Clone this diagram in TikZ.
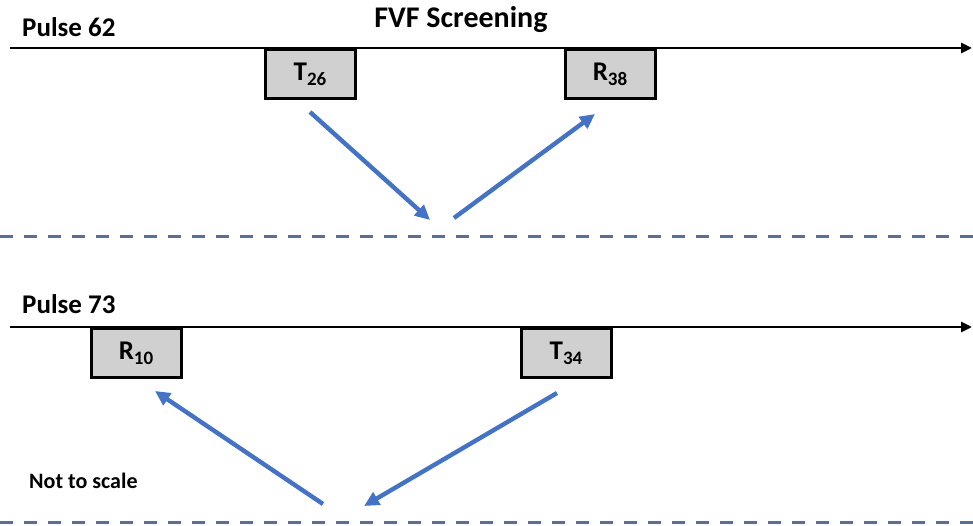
\documentclass[tikz,border=0pt]{standalone}
\usepackage{fontspec}
\setmainfont{Carlito}
\usetikzlibrary{arrows.meta}

\definecolor{rayblue}{RGB}{68,114,196}
\definecolor{floorblue}{RGB}{88,112,150}
\definecolor{gatefill}{RGB}{208,208,208}
\newcommand\lowidx[1]{\raisebox{-0.4ex}{\fontsize{19}{19}\selectfont #1}}

\begin{document}
\begin{tikzpicture}[
    x=1pt, y=-1pt,
    every node/.style={font=\bfseries\fontsize{27}{32}\selectfont},
    gate/.style={draw, line width=3pt, fill=gatefill,
      minimum width=90pt, minimum height=49pt, inner sep=0pt},
    pulse/.style={line width=2.8pt, -{Triangle[length=11pt,width=10pt]}},
    ray/.style={rayblue, line width=4.4pt, -{Triangle[length=15pt,width=14pt]}},
    floor/.style={floorblue, line width=3pt, dash pattern=on 13pt off 11pt}
  ]
  \useasboundingbox (0,0) rectangle (973,526);

  \node[anchor=base, inner sep=0pt, font=\bfseries\fontsize{30}{36}\selectfont]
    (title) at (461,28) {FVF Screening};

  % first pulse
  \node[anchor=base west, inner sep=0pt] (p62) at (22,37) {Pulse 62};
  \draw[pulse] (10,48) -- (972,48);
  \node[gate] (t26) at (310,74) {T\lowidx{26}};
  \node[gate] (r38) at (610,74) {R\lowidx{38}};
  \coordinate (a1) at (310,112);
  \coordinate (hit1) at (430,220);
  \coordinate (b1) at (454,218);
  \coordinate (a2) at (595,114);
  \draw[ray] (a1) -- (hit1);
  \draw[ray] (b1) -- (a2);
  \draw[floor] (0,237) -- (973,237);

  % second pulse
  \node[anchor=base west, inner sep=0pt] (p73) at (22,313) {Pulse 73};
  \draw[pulse] (10,327) -- (972,327);
  \node[gate] (r10) at (136,353) {R\lowidx{10}};
  \node[gate] (t34) at (566,353) {T\lowidx{34}};
  \coordinate (a3) at (557,393);
  \coordinate (hit2) at (364,506);
  \coordinate (b2) at (323,504);
  \coordinate (a4) at (155,391);
  \draw[ray] (a3) -- (hit2);
  \draw[ray] (b2) -- (a4);
  \draw[floor] (0,522) -- (973,522);

  \node[anchor=base west, inner sep=0pt,
    font=\bfseries\fontsize{22}{26}\selectfont] (scale) at (29,488) {Not to scale};
\end{tikzpicture}
\end{document}
